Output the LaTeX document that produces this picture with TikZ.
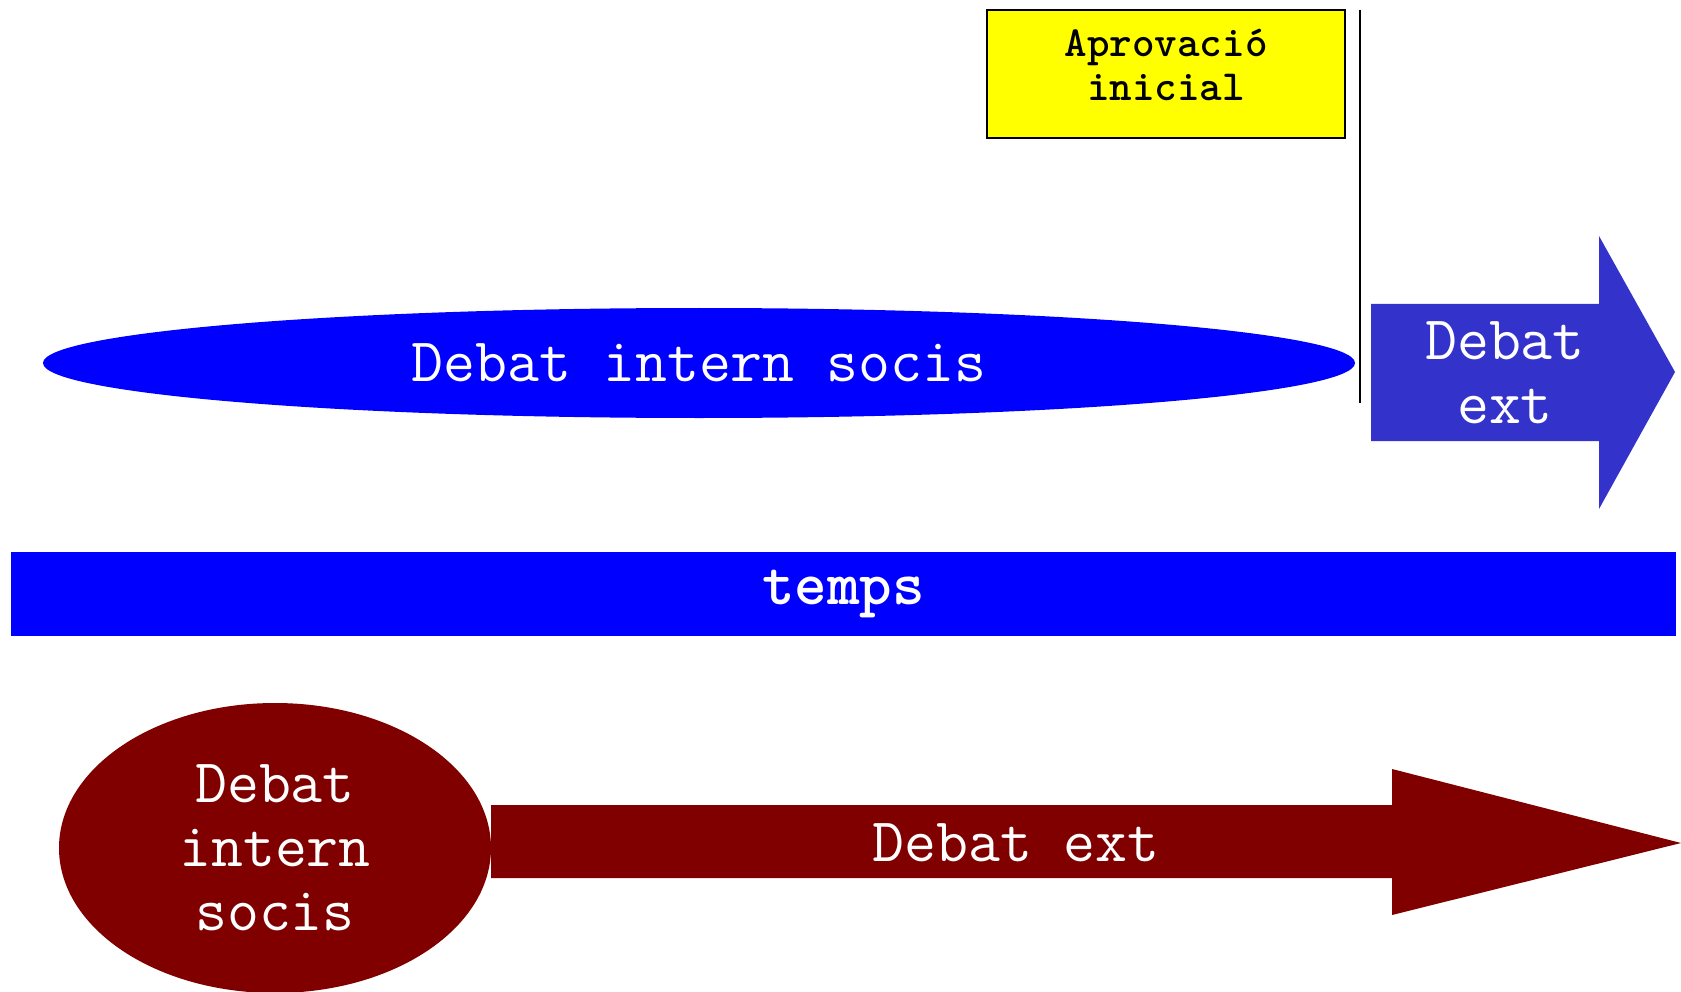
\documentclass[tikz,border=0pt]{standalone}
\usepackage{fontspec}
\usepackage{tikz}
\usetikzlibrary{positioning,shapes.geometric}
\definecolor{dbBlue}{RGB}{0,0,255}
\definecolor{dbExt}{RGB}{51,51,204}
\definecolor{dbRed}{RGB}{128,0,0}
\definecolor{dbYellow}{RGB}{255,255,0}
\tikzset{
    base/.style={align=center, inner sep=0pt},
    words/.style={base, text=white, font=\ttfamily\fontsize{62}{64}\selectfont},
    bubble/.style={words, ellipse},
    band/.style={words, rectangle, fill=dbBlue, font=\ttfamily\bfseries\fontsize{62}{64}\selectfont},
    flag/.style={base, rectangle, draw=black, line width=1.5pt, fill=dbYellow},
    flagtext/.style={base, text=black, font=\ttfamily\bfseries\fontsize{43}{44}\selectfont},
    mark line/.style={draw=black, line width=2pt}
}

\begin{document}
\begin{tikzpicture}[x=1pt, y=-1pt]
  \useasboundingbox (0,0) rectangle (1681,992);

  % Upper line: internal debate, then approval and external debate
  \node[bubble, fill=dbBlue, minimum width=1312pt, minimum height=110pt] (intern) at (699,363) {Debat intern socis};
  \node[flag, minimum width=358pt, minimum height=128pt] (aprov) at (1166,74) {};
  \node[flagtext] (aprovtext) at (1166,65) {Aprovació\\inicial};
  \draw[mark line] (1360,10) -- (1360,403);
  \fill[dbExt] (1371,304) -- (1599,304) -- (1599,236) -- (1675,372)
               -- (1599,509) -- (1599,441) -- (1371,441) -- cycle;
  \node[words] (extup) at (1505,373) {Debat\\ext};

  % Time band
  \node[band, minimum width=1665pt, minimum height=84pt] (temps) at (843.5,594) {temps};

  % Lower line: short internal debate, long external debate
  \node[bubble, fill=dbRed, minimum width=432pt, minimum height=290pt] (socis) at (275,848) {Debat\\intern\\socis};
  \fill[dbRed] (491,805) -- (1392,805) -- (1392,769) -- (1681,843)
               -- (1392,915) -- (1392,878) -- (491,878) -- cycle;
  \node[words] (extdown) at (1016,843) {Debat ext};
\end{tikzpicture}
\end{document}
